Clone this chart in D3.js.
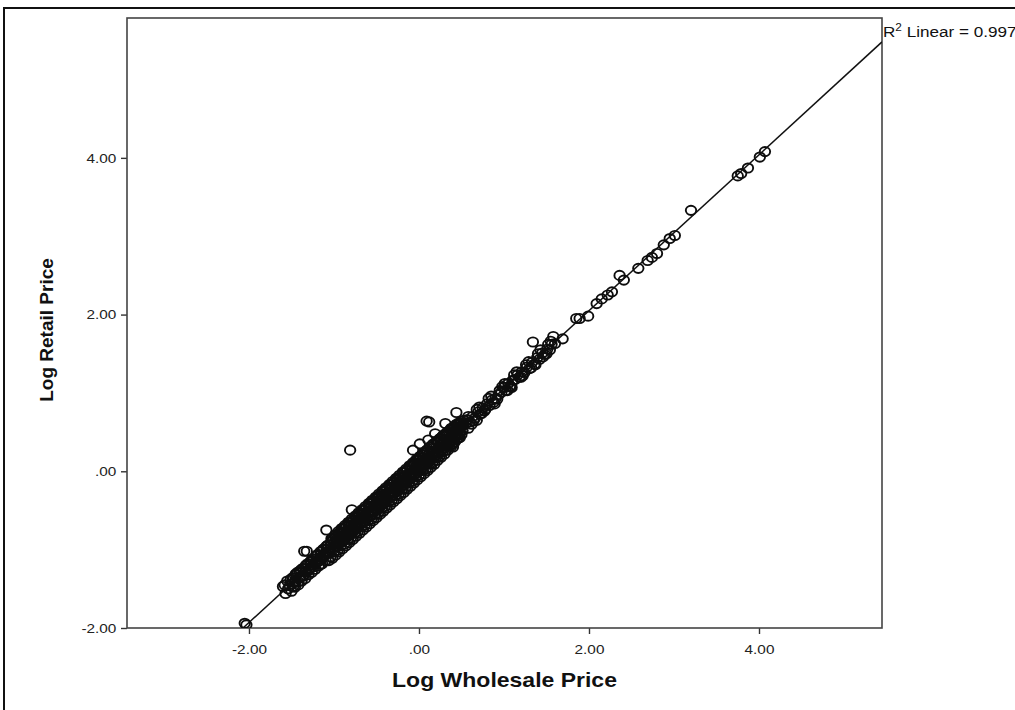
<!DOCTYPE html>
<html>
<head>
<meta charset="utf-8">
<script src="https://cdn.jsdelivr.net/npm/d3@7"></script>
<style>
  body { margin: 0; background: #fff; }
  svg { display: block; }
  text { font-family: "Liberation Sans", Arial, sans-serif; fill: #111; }
</style>
</head>
<body>
<svg id="chart" width="1015" height="710"></svg>
<script>
// Data -----------------------------------------
var xTicks = [-2, 0, 2, 4];
var yTicks = [-2, 0, 2, 4];
var xTitle = "Log Wholesale Price";
var yTitle = "Log Retail Price";
var r2Label = "0.997";
var fitIntercept = 0.06;   // linear fit shown in the chart
var fitSlope = 0.995;

// [log wholesale, log retail]
var lowTail = [
  [-2.05,-1.94],[-2.03,-1.96],[-1.60,-1.47],
  [-1.35,-1.02],[-1.32,-1.02],[-1.16,-1.19],[-1.09,-0.75]
];

var bandLow = [
  [-1.58,-1.45],[-1.57,-1.56],[-1.55,-1.40],[-1.54,-1.50],[-1.52,-1.46],[-1.51,-1.38],
  [-1.49,-1.36],[-1.48,-1.47],[-1.46,-1.40],[-1.45,-1.31],[-1.43,-1.29],[-1.42,-1.41],
  [-1.40,-1.35],[-1.39,-1.26],[-1.37,-1.24],[-1.36,-1.34],[-1.34,-1.28],[-1.33,-1.20],
  [-1.31,-1.18],[-1.30,-1.27],[-1.28,-1.23],[-1.27,-1.14],[-1.25,-1.12],[-1.24,-1.22],
  [-1.22,-1.16],[-1.21,-1.08],[-1.19,-1.06],[-1.18,-1.15],[-1.16,-1.10],[-1.15,-1.02],
  [-1.13,-1.00],[-1.12,-1.09],[-1.10,-1.04],[-1.09,-0.96],[-1.07,-0.94],[-1.06,-1.03],
  [-1.04,-0.98],[-1.03,-0.90],[-1.01,-0.87],[-1.00,-0.97]
];

var bandMid = [
  [-0.98,-0.84],[-0.97,-0.95],[-0.96,-0.89],[-0.95,-0.80],[-0.94,-0.92],[-0.93,-0.86],
  [-0.92,-0.77],[-0.91,-0.90],[-0.90,-0.83],[-0.89,-0.74],[-0.88,-0.87],[-0.87,-0.80],
  [-0.86,-0.71],[-0.85,-0.84],[-0.84,-0.77],[-0.83,-0.68],[-0.82,-0.81],[-0.81,-0.74],
  [-0.80,-0.65],[-0.79,-0.78],[-0.78,-0.71],[-0.77,-0.62],[-0.76,-0.75],[-0.75,-0.68],
  [-0.74,-0.59],[-0.73,-0.72],[-0.72,-0.65],[-0.71,-0.56],[-0.70,-0.69],[-0.69,-0.62],
  [-0.68,-0.53],[-0.67,-0.66],[-0.66,-0.59],[-0.65,-0.50],[-0.64,-0.63],[-0.63,-0.56],
  [-0.62,-0.47],[-0.61,-0.60],[-0.60,-0.53],[-0.59,-0.44],[-0.58,-0.57],[-0.57,-0.50],
  [-0.56,-0.41],[-0.55,-0.54],[-0.54,-0.47],[-0.53,-0.38],[-0.52,-0.51],[-0.51,-0.44],
  [-0.50,-0.35],[-0.49,-0.48],[-0.48,-0.41],[-0.47,-0.32],[-0.46,-0.45],[-0.45,-0.38],
  [-0.44,-0.29],[-0.43,-0.42],[-0.42,-0.35],[-0.41,-0.26],[-0.40,-0.39],[-0.39,-0.32],
  [-0.38,-0.23],[-0.37,-0.36],[-0.36,-0.29],[-0.35,-0.20],[-0.34,-0.33],[-0.33,-0.26],
  [-0.32,-0.17],[-0.31,-0.30],[-0.30,-0.23],[-0.29,-0.14],[-0.28,-0.27],[-0.27,-0.20],
  [-0.26,-0.11],[-0.25,-0.24],[-0.24,-0.17],[-0.23,-0.08],[-0.22,-0.21],[-0.21,-0.14],
  [-0.20,-0.05],[-0.19,-0.18],[-0.18,-0.11],[-0.17,-0.02],[-0.16,-0.15],[-0.15,-0.08],
  [-0.14,0.01],[-0.13,-0.12],[-0.12,-0.05],[-0.11,0.05],[-0.10,-0.09],[-0.09,-0.02],
  [-0.08,0.08],[-0.07,-0.06],[-0.06,0.01],[-0.05,0.11],[-0.04,-0.03],[-0.03,0.04],
  [-0.02,0.14],[-0.01,0.00],[0.00,0.07],[0.01,0.17],[0.02,0.03],[0.03,0.10],
  [0.04,0.21],[0.05,0.06],[0.06,0.13],[0.07,0.24],[0.08,0.09],[0.09,0.16],
  [0.10,0.27],[0.11,0.12],[0.12,0.19],[0.13,0.31],[0.14,0.15],[0.15,0.22],
  [0.16,0.34],[0.17,0.18],[0.18,0.25],[0.20,0.21],[0.21,0.28],[0.22,0.39],
  [0.23,0.24],[0.24,0.31],[0.25,0.42],[0.26,0.27],[0.27,0.34],[0.28,0.45],
  [0.29,0.30],[0.30,0.37],[0.32,0.48],[0.33,0.33],[0.34,0.40],[0.35,0.51],
  [0.36,0.37],[0.37,0.43],[0.38,0.54],[0.39,0.40],[0.40,0.35],[0.40,0.47],
  [0.41,0.57],[0.42,0.43],[0.43,0.50],[0.44,0.60],[0.45,0.46],[0.46,0.53],
  [0.47,0.62],[0.48,0.49],[0.49,0.56],[0.50,0.64],[0.51,0.52],[0.52,0.59]
];

// wider spread of cases filling the dense part of the cloud
var bandCore = [
  [-1.50,-1.53],[-1.49,-1.44],[-1.48,-1.36],[-1.46,-1.48],[-1.45,-1.41],[-1.44,-1.32],
  [-1.42,-1.45],[-1.41,-1.36],[-1.40,-1.28],[-1.38,-1.40],[-1.37,-1.33],[-1.36,-1.24],
  [-1.34,-1.37],[-1.33,-1.28],[-1.32,-1.20],[-1.30,-1.32],[-1.29,-1.25],[-1.28,-1.16],
  [-1.26,-1.29],[-1.25,-1.20],[-1.24,-1.12],[-1.22,-1.25],[-1.21,-1.17],[-1.20,-1.07],
  [-1.18,-1.21],[-1.17,-1.12],[-1.16,-1.03],[-1.14,-1.18],[-1.13,-1.08],[-1.12,-0.99],
  [-1.10,-1.14],[-1.09,-1.05],[-1.08,-0.95],
  [-1.06,-1.14],[-1.05,-1.04],[-1.04,-0.94],[-1.03,-0.86],[-1.02,-1.11],[-1.01,-1.00],
  [-1.00,-0.91],[-0.99,-0.82],[-0.98,-1.07],[-0.97,-0.97],[-0.96,-0.86],[-0.95,-0.77],
  [-0.94,-1.03],[-0.93,-0.92],[-0.92,-0.83],[-0.91,-0.73],[-0.90,-0.99],[-0.89,-0.89],
  [-0.88,-0.78],[-0.87,-0.69],[-0.86,-0.95],[-0.85,-0.84],[-0.84,-0.75],[-0.83,-0.65],
  [-0.82,-0.91],[-0.81,-0.81],[-0.80,-0.70],[-0.79,-0.61],[-0.78,-0.87],[-0.77,-0.76],
  [-0.76,-0.67],[-0.75,-0.57],[-0.74,-0.83],[-0.73,-0.73],[-0.72,-0.62],[-0.71,-0.53],
  [-0.70,-0.79],[-0.69,-0.68],[-0.68,-0.59],[-0.67,-0.49],[-0.66,-0.75],[-0.65,-0.65],
  [-0.64,-0.54],[-0.63,-0.45],[-0.62,-0.71],[-0.61,-0.60],[-0.60,-0.51],[-0.59,-0.41],
  [-0.58,-0.67],[-0.57,-0.57],[-0.56,-0.46],[-0.55,-0.37],[-0.54,-0.63],[-0.53,-0.52],
  [-0.52,-0.43],[-0.51,-0.33],[-0.50,-0.59],[-0.49,-0.49],[-0.48,-0.38],[-0.47,-0.29],
  [-0.46,-0.55],[-0.45,-0.44],[-0.44,-0.35],[-0.43,-0.25],[-0.42,-0.51],[-0.41,-0.41],
  [-0.40,-0.30],[-0.39,-0.21],[-0.38,-0.47],[-0.37,-0.36],[-0.36,-0.27],[-0.35,-0.17],
  [-0.34,-0.43],[-0.33,-0.33],[-0.32,-0.22],[-0.31,-0.13],[-0.30,-0.39],[-0.29,-0.28],
  [-0.28,-0.19],[-0.27,-0.09],[-0.26,-0.35],[-0.25,-0.25],[-0.24,-0.14],[-0.23,-0.05],
  [-0.22,-0.31],[-0.21,-0.20],[-0.20,-0.11],[-0.19,-0.01],[-0.18,-0.27],[-0.17,-0.17],
  [-0.16,-0.06],[-0.15,0.03],[-0.14,-0.23],[-0.13,-0.12],[-0.12,-0.03],[-0.11,0.07],
  [-0.10,-0.19],[-0.09,-0.09],[-0.08,0.02],[-0.07,0.11],[-0.06,-0.15],[-0.05,-0.04],
  [-0.04,0.05],[-0.03,0.15],[-0.02,-0.11],[-0.01,0.00],[0.00,0.10],[0.01,0.19],
  [0.02,-0.07],[0.03,0.03],[0.04,0.14],[0.05,0.23],[0.06,-0.03],[0.07,0.08],
  [0.08,0.17],[0.09,0.27],[0.10,0.01],[0.11,0.11],[0.12,0.22],[0.13,0.31],
  [0.14,0.05],[0.15,0.16],[0.16,0.25],[0.17,0.35],[0.18,0.09],[0.19,0.19],
  [0.20,0.30],[0.21,0.39],[0.22,0.14],[0.23,0.24],[0.24,0.33],[0.25,0.42],
  [0.26,0.18],[0.27,0.27],[0.28,0.38],[0.29,0.46],[0.30,0.22],[0.31,0.32],
  [0.32,0.41],[0.33,0.50],[0.34,0.27],[0.35,0.35],[0.36,0.46],[0.37,0.53],
  [0.38,0.32],[0.39,0.40],[0.40,0.49],[0.41,0.56],[0.42,0.37],[0.43,0.44],
  [0.44,0.53],[0.45,0.59],[0.46,0.42],[0.47,0.48],[0.48,0.57],[0.49,0.62],
  [0.50,0.47],[0.51,0.52],[0.52,0.61],[0.53,0.65]
];

// cases along the lower and upper edges of the dense cloud
var bandEdges = [
  [-1.04,-1.09],[-1.00,-1.03],[-0.96,-1.01],[-0.92,-0.95],[-0.88,-0.93],[-0.84,-0.87],
  [-0.80,-0.85],[-0.76,-0.79],[-0.72,-0.77],[-0.68,-0.71],[-0.64,-0.69],[-0.60,-0.63],
  [-0.56,-0.61],[-0.52,-0.55],[-0.48,-0.53],[-0.44,-0.47],[-0.40,-0.45],[-0.36,-0.39],
  [-0.32,-0.37],[-0.28,-0.31],[-0.24,-0.29],[-0.20,-0.23],[-0.16,-0.21],[-0.12,-0.15],
  [-0.08,-0.13],[-0.04,-0.07],[0.00,-0.05],[0.04,0.01],[0.08,0.03],[0.12,0.09],
  [0.16,0.11],[0.20,0.17],[0.24,0.19],[0.28,0.25],[0.32,0.27],[0.36,0.33],
  [0.40,0.31],[0.44,0.41],[0.48,0.43],
  [-1.02,-0.86],[-0.98,-0.81],[-0.94,-0.79],[-0.90,-0.73],[-0.86,-0.71],[-0.82,-0.65],
  [-0.78,-0.63],[-0.74,-0.57],[-0.70,-0.55],[-0.66,-0.49],[-0.62,-0.47],[-0.58,-0.41],
  [-0.54,-0.39],[-0.50,-0.33],[-0.46,-0.31],[-0.42,-0.25],[-0.38,-0.23],[-0.34,-0.17],
  [-0.30,-0.15],[-0.26,-0.09],[-0.22,-0.07],[-0.18,-0.01],[-0.14,0.01],[-0.10,0.07],
  [-0.06,0.09],[-0.02,0.15],[0.02,0.17],[0.06,0.23],[0.10,0.25],[0.14,0.31],
  [0.18,0.33],[0.22,0.39],[0.26,0.41],[0.30,0.47],[0.34,0.49],[0.38,0.55],
  [0.42,0.57]
];

var outliers = [
  [-0.81,0.27],[-0.79,-0.49],[-0.07,0.27],[0.01,0.35],[0.09,0.64],[0.12,0.63],
  [0.11,0.40],[0.19,0.48],[0.31,0.61],[0.44,0.75],[0.58,0.55],[0.68,0.65]
];

var bandHigh = [
  [0.55,0.61],[0.57,0.66],[0.58,0.70],[0.60,0.63],[0.62,0.60],[0.63,0.70],
  [0.64,0.64],[0.66,0.68],[0.68,0.79],[0.70,0.76],[0.71,0.82],[0.72,0.73],
  [0.74,0.74],[0.75,0.81],[0.77,0.77],[0.78,0.79],[0.80,0.86],[0.82,0.93],
  [0.83,0.84],[0.85,0.96],[0.86,0.91],[0.88,0.88],[0.89,0.86],[0.90,0.93],
  [0.92,0.92],[0.94,0.98],[0.95,1.03],[0.97,1.01],[0.98,1.08],[1.00,1.07],
  [1.01,1.12],[1.02,1.03],[1.04,1.03],[1.05,1.12],[1.07,1.09],[1.08,1.08],
  [1.09,1.07],[1.10,1.16],[1.12,1.23],[1.13,1.17],[1.15,1.27],[1.16,1.23],
  [1.18,1.20],[1.20,1.20],[1.21,1.27],[1.22,1.22],[1.24,1.26],[1.26,1.36],
  [1.27,1.33],[1.29,1.40],[1.30,1.31],[1.32,1.32],[1.33,1.39],[1.34,1.65],
  [1.36,1.37],[1.37,1.36],[1.39,1.45],[1.40,1.50],[1.42,1.43],[1.43,1.55],
  [1.45,1.51],[1.46,1.46],[1.48,1.49],[1.50,1.50],[1.51,1.56],[1.52,1.62],
  [1.54,1.55],[1.55,1.66],[1.56,1.62],[1.58,1.72],[1.60,1.63],[1.69,1.69]
];

var highTail = [
  [1.85,1.95],[1.89,1.95],[1.99,1.98],[2.09,2.14],[2.15,2.20],[2.22,2.25],
  [2.27,2.29],[2.36,2.50],[2.41,2.44],[2.58,2.59],[2.69,2.69],[2.74,2.73],
  [2.80,2.78],[2.88,2.89],[2.95,2.97],[3.01,3.01],[3.20,3.33],[3.75,3.77],
  [3.79,3.80],[3.87,3.87],[4.01,4.01],[4.07,4.08]
];

var cases = [].concat(lowTail, bandLow, bandMid, bandCore, bandEdges, outliers, bandHigh, highTail);

// Layout ---------------------------------------
var svg = d3.select("#chart");
var plot = { left: 127, top: 18, right: 882, bottom: 628 };
var stretch = 1.18;   // the source picture is slightly wide

var x = d3.scaleLinear()
    .domain([-3.435, 5.447])
    .range([plot.left, plot.right]);

var y = d3.scaleLinear()
    .domain([-2, 5.785])
    .range([plot.bottom, plot.top]);

var fmt = function(d) {
  var s = d3.format(".2f")(d).replace("\u2212", "-");
  return s.replace(/^0\./, ".").replace(/^-0\./, "-.");
};

svg.append("rect")
    .attr("width", 1015).attr("height", 710)
    .attr("fill", "#fff");

var defs = svg.append("defs");
defs.append("clipPath")
    .attr("id", "clip")
  .append("rect")
    .attr("x", plot.left).attr("y", plot.top)
    .attr("width", plot.right - plot.left)
    .attr("height", plot.bottom - plot.top);

defs.append("filter")
    .attr("id", "soft")
  .append("feGaussianBlur")
    .attr("stdDeviation", 0.5);

// outer frame
svg.append("path")
    .attr("d", "M4,712 L4,8 L1017,8")
    .attr("fill", "none")
    .attr("stroke", "#111")
    .attr("stroke-width", 2);

// Axes -----------------------------------------
var xAxis = svg.append("g")
    .attr("transform", "translate(0," + plot.bottom + ")")
    .call(d3.axisBottom(x).tickValues(xTicks).tickFormat(fmt)
      .tickSize(6).tickSizeOuter(0).tickPadding(11));

var yAxis = svg.append("g")
    .attr("transform", "translate(" + plot.left + ",0)")
    .call(d3.axisLeft(y).tickValues(yTicks).tickFormat(fmt)
      .tickSize(6).tickSizeOuter(0).tickPadding(3));

[xAxis, yAxis].forEach(function(g) {
  g.select(".domain").remove();
  g.selectAll(".tick line").attr("stroke", "#333").attr("stroke-width", 1.4);
  g.selectAll(".tick text")
      .style("font-size", "13px")
      .style("fill", "#222")
      .attr("transform", "scale(" + stretch + ",1)");
});

// plot frame
svg.append("rect")
    .attr("x", plot.left).attr("y", plot.top)
    .attr("width", plot.right - plot.left)
    .attr("height", plot.bottom - plot.top)
    .attr("fill", "none")
    .attr("stroke", "#444")
    .attr("stroke-width", 1.6);

// Fit line -------------------------------------
var x0 = (-2 - fitIntercept) / fitSlope;
var x1 = x.domain()[1];
svg.append("line")
    .attr("clip-path", "url(#clip)")
    .attr("x1", x(x0)).attr("y1", y(fitIntercept + fitSlope * x0))
    .attr("x2", x(x1)).attr("y2", y(fitIntercept + fitSlope * x1))
    .attr("stroke", "#111")
    .attr("stroke-width", 1.5);

// Points ---------------------------------------
svg.append("g")
    .attr("clip-path", "url(#clip)")
  .append("g")
    .attr("filter", "url(#soft)")
  .selectAll("ellipse")
    .data(cases)
    .enter()
    .append("ellipse")
    .attr("cx", function(d) { return x(d[0]) })
    .attr("cy", function(d) { return y(d[1]) })
    .attr("rx", 5.2)
    .attr("ry", 4.6)
    .attr("fill", "none")
    .attr("stroke", "#111")
    .attr("stroke-width", 1.9);

// Labels ---------------------------------------
var r2 = svg.append("text")
    .attr("transform", "translate(" + (plot.right + 1) + ",37) scale(" + stretch + ",1)")
    .style("font-size", "14.5px");
r2.append("tspan").text("R");
r2.append("tspan").attr("dy", -6).style("font-size", "10px").text("2");
r2.append("tspan").attr("dy", 6).text(" Linear = " + r2Label);

svg.append("text")
    .attr("transform", "translate(" + ((plot.left + plot.right) / 2) + ",687) scale(" + stretch + ",1)")
    .attr("text-anchor", "middle")
    .style("font-size", "19.5px")
    .style("font-weight", "bold")
    .text(xTitle);

svg.append("text")
    .attr("transform", "translate(53,330) rotate(-90)")
    .attr("text-anchor", "middle")
    .style("font-size", "19px")
    .style("font-weight", "bold")
    .text(yTitle);
</script>
</body>
</html>
